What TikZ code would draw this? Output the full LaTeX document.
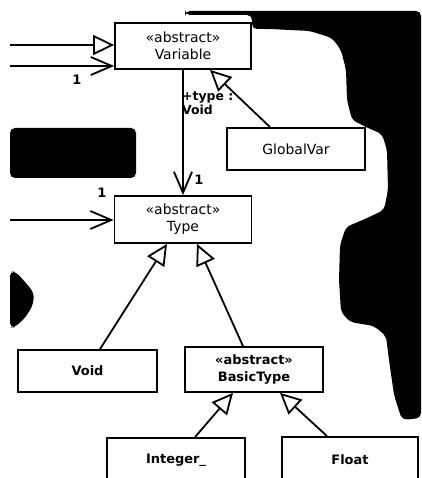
\documentclass[tikz,border=0pt]{standalone}
\usepackage{fontspec}
\setmainfont{DejaVu Sans}
\usetikzlibrary{arrows.meta,calc}
\begin{document}
\begin{tikzpicture}[x=1bp,y=-1bp]
\tikzset{
 cls/.style={draw, line width=1.8bp, fill=white, align=center, inner sep=0pt,
   font=\fontsize{14}{17}\selectfont},
 clsb/.style={cls, font=\bfseries\fontsize{13}{16.5}\selectfont},
 gen/.style={line width=1.8bp, -{Triangle[open,length=21bp,width=20bp,line width=1.8bp]}},
 nav/.style={line width=1.8bp, -{Straight Barb[length=21bp,width=18bp,line width=1.8bp]}},
 mult/.style={font=\bfseries\fontsize{13}{15}\selectfont, inner sep=0pt},
 blob/.style={fill=black, rounded corners=5bp}
}
\useasboundingbox (0,0) rectangle (421,478);
% scan blobs
\fill[blob] (185,11) -- (421,11) -- (421,418) -- (402,420) -- (394,395) -- (389,360)
  -- (386,336) -- (374,326) -- (350,322) -- (341,312) -- (339,280) -- (340,245)
  -- (346,227) -- (365,219) -- (384,210) -- (388,190) -- (387,150) -- (382,134)
  -- (368,128) -- (352,120) -- (347,100) -- (346,70) -- (341,50) -- (332,38)
  -- (310,31) -- (270,29) -- (252,29) -- (252,15) -- (185,15) -- cycle;
\fill[blob] (10,128) rectangle (136,178);
\fill[blob] (10,271) -- (16,272) -- (26,283) -- (34,293) -- (33,305) -- (25,318)
  -- (15,327) -- (10,328) -- cycle;
% classes
\node[cls, minimum width=136bp, minimum height=46bp] (var) at (183,46) {«abstract»\\Variable};
\node[cls, minimum width=138bp, minimum height=42bp] (gv) at (296,149) {GlobalVar};
\node[cls, minimum width=137bp, minimum height=47bp] (type) at (183,219.5) {«abstract»\\Type};
\node[clsb, minimum width=139bp, minimum height=42bp] (void) at (87.5,371) {Void};
\node[clsb, minimum width=138bp, minimum height=45bp] (bt) at (254,369.5) {«abstract»\\BasicType};
\node[clsb, minimum width=138bp, minimum height=44bp] (int) at (176,460) {Integer\_};
\node[clsb, minimum width=136bp, minimum height=46bp] (flt) at (350,460) {Float};
% free ends
\coordinate (a1) at (10,45);
\coordinate (a2) at (10,66);
\coordinate (a3) at (10,220);
% connectors
\draw[gen] (a1) -- (a1 -| var.west);
\draw[nav] (a2) -- (a2 -| var.west);
\draw[nav] (a3) -- (a3 -| type.west);
\draw[nav] (var.south) -- (type.north);
\draw[gen] ($(gv.north)+(-26,0)$) -- ($(var.south)+(27,0)$);
\draw[gen] ($(void.north)+(12.5,0)$) -- ($(type.south)+(-16,0)$);
\draw[gen] ($(bt.north)+(-11,0)$) -- ($(type.south)+(14,0)$);
\draw[gen] ($(int.north)+(19,0)$) -- ($(bt.south)+(-21,0)$);
\draw[gen] ($(flt.north)+(-23,0)$) -- ($(bt.south)+(26,0)$);
% labels
\node[mult] (m1) at (77,80) {1};
\node[mult] (m2) at (102,193) {1};
\node[mult] (m3) at (199,180) {1};
\node[anchor=west, font=\bfseries\fontsize{12.5}{14}\selectfont, align=left, inner sep=0pt] (role) at (182,103) {+type :\\Void};
\end{tikzpicture}
\end{document}
